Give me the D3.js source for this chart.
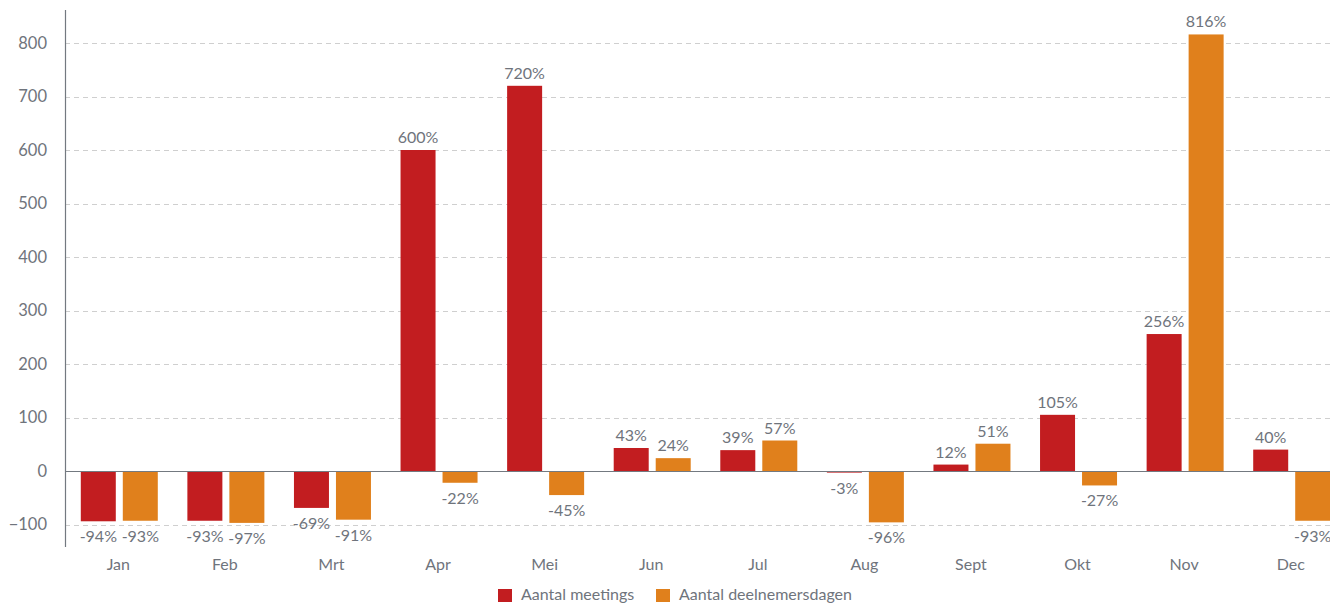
<!DOCTYPE html>
<html>
<head>
<meta charset="utf-8">
<script src="https://cdn.jsdelivr.net/npm/d3@7"></script>
<style>
  body { margin: 0; background: #fff; }
  svg text { font-family: Lato, "Open Sans", sans-serif; fill: #6f747c; }
</style>
</head>
<body>
<div id="chart"></div>
<script>
var months = ["Jan", "Feb", "Mrt", "Apr", "Mei", "Jun", "Jul", "Aug", "Sept", "Okt", "Nov", "Dec"];
var meetings = [-94, -93, -69, 600, 720, 43, 39, -3, 12, 105, 256, 40];
var deelnemers = [-93, -97, -91, -22, -45, 24, 57, -96, 51, -27, 816, -93];
var yTicks = [-100, 0, 100, 200, 300, 400, 500, 600, 700, 800];
var seriesNames = ["Aantal meetings", "Aantal deelnemersdagen"];
var colors = ["#c21d20", "#e0801c"];

var W = 1330, H = 604;
var svg = d3.select("#chart").append("svg")
    .attr("width", W)
    .attr("height", H);

var x = d3.scaleBand()
    .domain(months)
    .range([65, 1344]);

var y = d3.scaleLinear()
    .domain([-100, 800])
    .range([524.5, 43]);

var barW = 35, gap = 7;

// grid
svg.append("g")
    .selectAll("line")
    .data(yTicks.filter(function(d) { return d != 0; }))
    .enter()
    .append("line")
    .attr("x1", 65).attr("x2", W)
    .attr("y1", function(d) { return Math.round(y(d)) + 0.5; })
    .attr("y2", function(d) { return Math.round(y(d)) + 0.5; })
    .attr("stroke", "#cfcfcf")
    .attr("stroke-dasharray", "5,4");

// y axis
var yAxis = svg.append("g")
    .attr("transform", "translate(65,0)")
    .call(d3.axisLeft(y).tickValues(yTicks).tickSize(0).tickPadding(18));
yAxis.select(".domain").remove();
yAxis.selectAll("text")
    .attr("font-size", "16.5px")
    .style("font-family", "Lato, sans-serif")
    .attr("fill", "#6f747c");

svg.append("line")
    .attr("x1", 65.5).attr("x2", 65.5)
    .attr("y1", 10).attr("y2", 547)
    .attr("stroke", "#737980")
    .attr("stroke-width", 1.2);

// bars
var data = months.map(function(m, i) {
    return [{ m: m, s: 0, v: meetings[i] }, { m: m, s: 1, v: deelnemers[i] }];
});
var flat = [].concat.apply([], data);

function barX(d) {
    var c = x(d.m) + x.bandwidth() / 2 + 1;
    return d.s == 0 ? c - gap / 2 - barW : c + gap / 2;
}

svg.append("g")
    .selectAll("rect")
    .data(flat)
    .enter()
    .append("rect")
    .attr("x", barX)
    .attr("width", barW)
    .attr("y", function(d) { return Math.min(y(d.v), y(0)); })
    .attr("height", function(d) { return Math.abs(y(d.v) - y(0)); })
    .attr("fill", function(d) { return colors[d.s]; });

// zero line
svg.append("line")
    .attr("x1", 65).attr("x2", W)
    .attr("y1", Math.round(y(0)) + 0.5).attr("y2", Math.round(y(0)) + 0.5)
    .attr("stroke", "#737980")
    .attr("stroke-width", 1.2);

// value labels
svg.append("g")
    .selectAll("text")
    .data(flat)
    .enter()
    .append("text")
    .attr("x", function(d) { return barX(d) + barW / 2; })
    .attr("y", function(d) { return d.v >= 0 ? y(d.v) - 7 : y(d.v) + 21; })
    .attr("text-anchor", "middle")
    .attr("font-size", "16px")
    .text(function(d) { return d.v + "%"; });

// x labels
svg.append("g")
    .selectAll("text")
    .data(months)
    .enter()
    .append("text")
    .attr("x", function(d) { return x(d) + x.bandwidth() / 2; })
    .attr("y", 570)
    .attr("text-anchor", "middle")
    .attr("font-size", "16px")
    .text(function(d) { return d; });

// legend
var leg = svg.append("g");
var lx = [498, 656];
seriesNames.forEach(function(n, i) {
    leg.append("rect")
        .attr("x", lx[i]).attr("y", 589)
        .attr("width", 14).attr("height", 13)
        .attr("fill", colors[i]);
    leg.append("text")
        .attr("x", lx[i] + 23).attr("y", 600)
        .attr("font-size", "16px")
        .text(n);
});
</script>
</body>
</html>
